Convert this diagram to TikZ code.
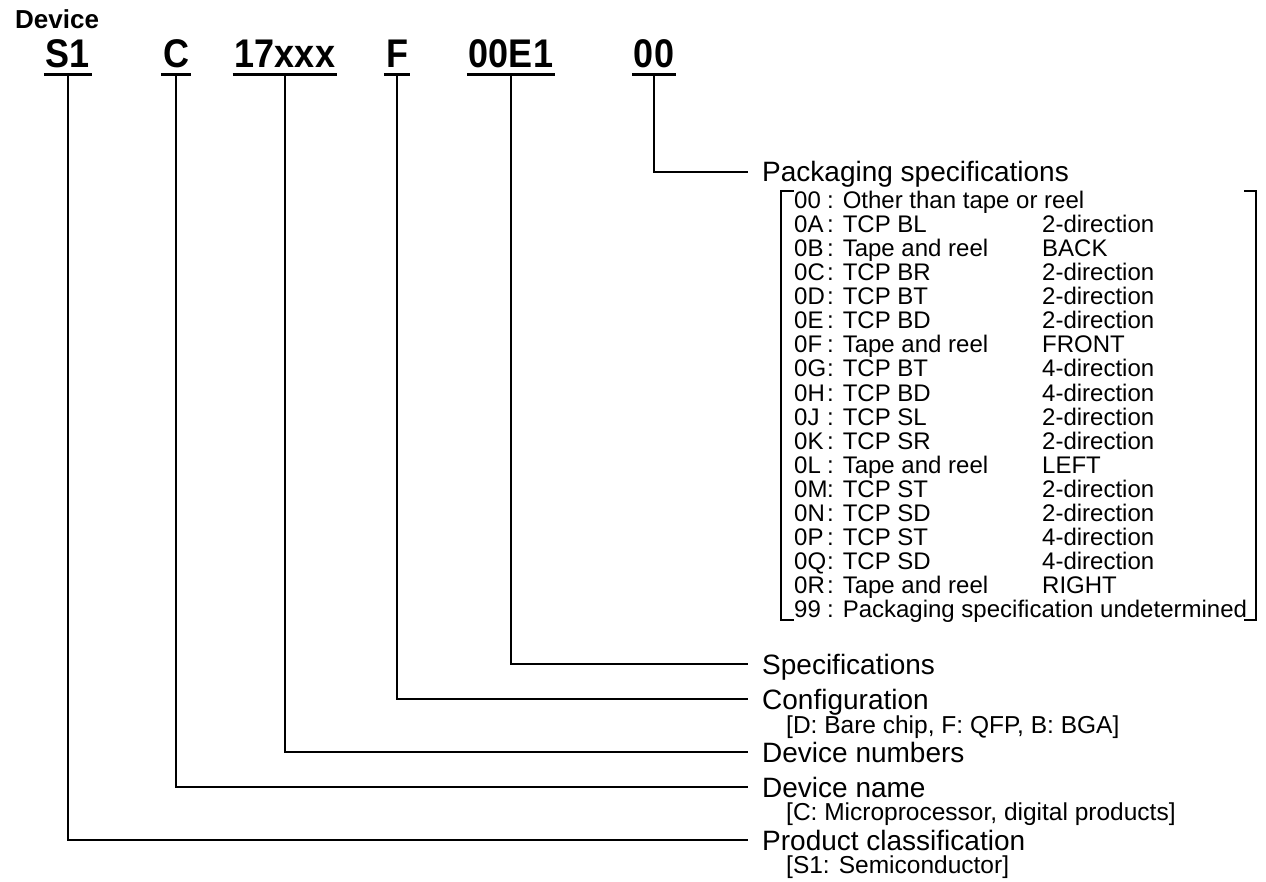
\documentclass[tikz,border=0pt]{standalone}
\usepackage{fontspec}
\setmainfont{Liberation Sans}
\newfontfamily\codefont[FakeStretch=0.9]{Liberation Sans}
\begin{document}
\begin{tikzpicture}[x=1pt,y=-1pt,
  code/.style={font=\codefont\fontsize{40}{44}\selectfont\bfseries, inner sep=0pt, anchor=base},
  head/.style={font=\fontsize{26}{28}\selectfont\bfseries, inner sep=0pt, anchor=base west},
  lbl/.style={font=\fontsize{28}{30}\selectfont, inner sep=0pt, anchor=base west},
  sublbl/.style={font=\fontsize{24.5}{26}\selectfont, inner sep=0pt, anchor=base west},
  item/.style={font=\fontsize{24}{24}\selectfont, inner sep=0pt, anchor=base west},
  conn/.style={line width=1.5pt},
  ul/.style={line width=3pt},
  brk/.style={line width=1.5pt}]
\useasboundingbox (0,0) rectangle (1266,882);

\node[head] (dev) at (15,29) {Device};
\node[code] (c1) at (68,68) {S1};
\node[code] (c2) at (176,68) {C};
\node[code] (c3) at (285,68) {17xxx};
\node[code] (c4) at (397,68) {F};
\node[code] (c5) at (511,68) {00E1};
\node[code] (c6) at (654,68) {00};
\foreach \n in {c1,c2,c3,c4,c5,c6}
  \draw[ul] ([xshift=-2pt,yshift=-7pt]\n.base west) -- ([xshift=2pt,yshift=-7pt]\n.base east);

% connector ends
\coordinate (e6) at (748,172);
\coordinate (e5) at (748,664);
\coordinate (e4) at (748,699);
\coordinate (e3) at (748,752);
\coordinate (e2) at (748,787);
\coordinate (e1) at (748,840);
\foreach \k in {1,...,6}
  \draw[conn] ([yshift=-8.5pt]c\k.base) |- (e\k);

% labels
\node[lbl] (pk) at (762,182) {Packaging specifications};
\node[lbl] (sp) at (762,674) {Specifications};
\node[lbl] (cf) at (762,709) {Configuration};
\node[sublbl] (cfs) at (786,733) {[D: Bare chip, F: QFP, B: BGA]};
\node[lbl] (dn) at (762,762) {Device numbers};
\node[lbl] (dm) at (762,797) {Device name};
\node[sublbl] (dms) at (786,820) {[C: Microprocessor, digital products]};
\node[lbl] (pc) at (762,850) {Product classification};
\node[sublbl] (pcs) at (786,873) {[S1: Semiconductor]};

% packaging list brackets
\draw[brk] (794,191) -- (781,191) -- (781,620) -- (794,620);
\draw[brk] (1244,191) -- (1256,191) -- (1256,620) -- (1244,620);

% packaging list
\node[item] (r0a) at (794,209) {00};
\node[item] (r0b) at (827,209) {: Other than tape or reel};
\foreach \c/\t/\d [count=\i] in {
  0A/TCP BL/2-direction,
  0B/Tape and reel/BACK,
  0C/TCP BR/2-direction,
  0D/TCP BT/2-direction,
  0E/TCP BD/2-direction,
  0F/Tape and reel/FRONT,
  0G/TCP BT/4-direction,
  0H/TCP BD/4-direction,
  0J/TCP SL/2-direction,
  0K/TCP SR/2-direction,
  0L/Tape and reel/LEFT,
  0M/TCP ST/2-direction,
  0N/TCP SD/2-direction,
  0P/TCP ST/4-direction,
  0Q/TCP SD/4-direction,
  0R/Tape and reel/RIGHT}{
  \pgfmathsetmacro\yy{209+24*\i}
  \node[item] (r\i a) at (794,\yy) {\c};
  \node[item] (r\i b) at (827,\yy) {: \t};
  \node[item] (r\i c) at (1042,\yy) {\d};
}
\node[item] (r17a) at (794,617) {99};
\node[item] (r17b) at (827,617) {: Packaging specification undetermined};
\end{tikzpicture}
\end{document}
